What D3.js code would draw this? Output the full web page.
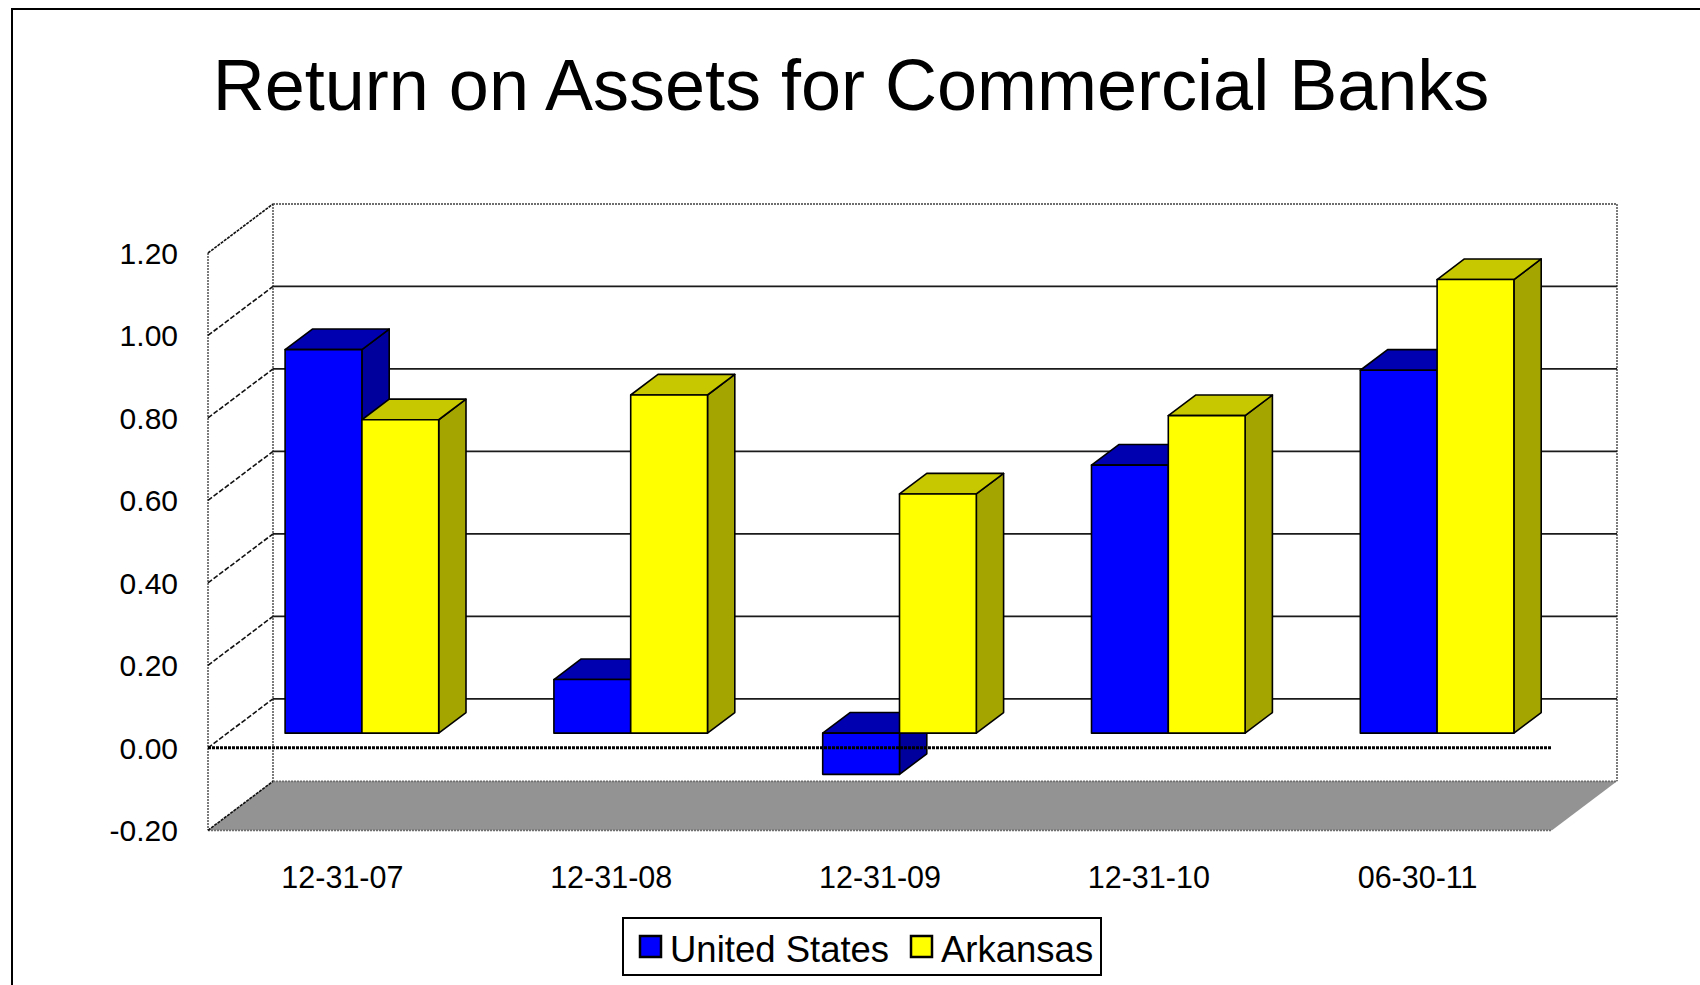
<!DOCTYPE html>
<html>
    <head>
        <meta charset="utf-8">
        <title>Return on Assets for Commercial Banks</title>
        <script src="https://d3js.org/d3.v7.min.js"></script>
        <style>
            body { margin: 0; background: #fff; }
            text { font-family: "Liberation Sans", Arial, sans-serif; fill: #000; }
        </style>
    </head>
    <body>
        <svg width="1700" height="985"></svg>

        <script type="text/javascript">
            // data
            const categories = ['12-31-07', '12-31-08', '12-31-09', '12-31-10', '06-30-11'];
            const seriesNames = ['United States', 'Arkansas'];
            const unitedStates = [0.93, 0.13, -0.10, 0.65, 0.88];
            const arkansas = [0.76, 0.82, 0.58, 0.77, 1.10];
            const yTicks = [-0.2, 0, 0.2, 0.4, 0.6, 0.8, 1.0, 1.2];
            const yTickLabels = ['-0.20', '0.00', '0.20', '0.40', '0.60', '0.80', '1.00', '1.20'];

            const frontColor = ['#0000ff', '#ffff00'];
            const topColor = ['#0000b0', '#c8c800'];
            const sideColor = ['#00009c', '#a5a500'];

            const svg = d3.select('svg');

            // front plane of the 3d box, and the depth offset of its back wall
            const left = 208, right = 1552;
            const DX = 65, DY = -49;
            const zFront = 0.3, zBack = 0.72;

            const x0 = d3.scaleBand()
                        .domain(categories)
                        .range([left, right]);
            const barW = x0.bandwidth() / 3.5;
            const x1 = d3.scaleBand()
                        .domain(seriesNames)
                        .range([0, 2 * barW]);
            const y = d3.scaleLinear()
                        .domain([-0.2, 1.2])
                        .range([830.3, 253]);

            // oblique projection: front x, value, depth 0..1
            const P = (x, v, z) => [x + z * DX, y(v) + z * DY];
            const poly = pts => pts.map(p => p.join(',')).join(' ');

            // walls and floor
            svg.append('polygon')
                .attr('points', poly([P(left, 1.2, 0), P(left, 1.2, 1), P(left, -0.2, 1), P(left, -0.2, 0)]))
                .attr('fill', '#fff');
            svg.append('polygon')
                .attr('points', poly([P(left, 1.2, 1), P(right, 1.2, 1), P(right, -0.2, 1), P(left, -0.2, 1)]))
                .attr('fill', '#fff');
            svg.append('polygon')
                .attr('points', poly([P(left, -0.2, 0), P(right, -0.2, 0), P(right, -0.2, 1), P(left, -0.2, 1)]))
                .attr('fill', '#939393');

            // wall edges, dotted gray
            const edges = [
                [P(left, 1.2, 0), P(left, -0.2, 0)],
                [P(left, 1.2, 1), P(left, -0.2, 1)],
                [P(left, 1.2, 1), P(right, 1.2, 1)],
                [P(right, 1.2, 1), P(right, -0.2, 1)],
                [P(left, -0.2, 1), P(right, -0.2, 1)],
                [P(left, -0.2, 0), P(right, -0.2, 0)]
            ];
            svg.selectAll('line.edge')
                .data(edges)
                .enter()
                .append('line')
                .attr('class', 'edge')
                .attr('x1', d => d[0][0]).attr('y1', d => d[0][1])
                .attr('x2', d => d[1][0]).attr('y2', d => d[1][1])
                .attr('stroke', '#6e6e6e')
                .attr('stroke-width', 1.8)
                .attr('stroke-dasharray', '2,1');

            // left wall diagonals (incl. the floor edge) and back wall gridlines
            svg.selectAll('line.diag')
                .data(yTicks)
                .enter()
                .append('line')
                .attr('class', 'diag')
                .attr('x1', d => P(left, d, 0)[0]).attr('y1', d => P(left, d, 0)[1])
                .attr('x2', d => P(left, d, 1)[0]).attr('y2', d => P(left, d, 1)[1])
                .attr('stroke', '#111')
                .attr('stroke-width', 1.6)
                .attr('stroke-dasharray', d => d === 1.2 || d === -0.2 ? '3,1' : '5,2');

            svg.selectAll('line.grid')
                .data(yTicks.filter(d => d >= 0 && d < 1.2))
                .enter()
                .append('line')
                .attr('class', 'grid')
                .attr('x1', P(left, 0, 1)[0])
                .attr('x2', P(right, 0, 1)[0])
                .attr('y1', d => P(left, d, 1)[1])
                .attr('y2', d => P(left, d, 1)[1])
                .attr('stroke', '#1a1a1a')
                .attr('stroke-width', 1.8);

            // bars, painted left to right
            const bars = [];
            categories.forEach((c, i) => {
                [unitedStates[i], arkansas[i]].forEach((v, s) => {
                    const xa = x0(c) + (x0.bandwidth() - 2 * barW) / 2 + x1(seriesNames[s]);
                    bars.push({ xa: xa, xb: xa + x1.bandwidth(), v: v, s: s });
                });
            });

            const barG = svg.selectAll('g.bar')
                            .data(bars)
                            .enter()
                            .append('g')
                            .attr('class', 'bar')
                            .attr('stroke', '#000')
                            .attr('stroke-width', 1.6)
                            .attr('stroke-linejoin', 'round');

            barG.append('polygon')
                .attr('points', d => {
                    const hi = Math.max(0, d.v), lo = Math.min(0, d.v);
                    return poly([P(d.xb, hi, zFront), P(d.xb, hi, zBack), P(d.xb, lo, zBack), P(d.xb, lo, zFront)]);
                })
                .attr('fill', d => sideColor[d.s]);
            barG.append('polygon')
                .attr('points', d => {
                    const hi = Math.max(0, d.v);
                    return poly([P(d.xa, hi, zFront), P(d.xb, hi, zFront), P(d.xb, hi, zBack), P(d.xa, hi, zBack)]);
                })
                .attr('fill', d => topColor[d.s]);
            barG.append('polygon')
                .attr('points', d => {
                    const hi = Math.max(0, d.v), lo = Math.min(0, d.v);
                    return poly([P(d.xa, hi, zFront), P(d.xb, hi, zFront), P(d.xb, lo, zFront), P(d.xa, lo, zFront)]);
                })
                .attr('fill', d => frontColor[d.s]);

            // zero line on the front plane, drawn over the bars
            svg.append('line')
                .attr('x1', P(left, 0, 0)[0]).attr('y1', P(left, 0, 0)[1])
                .attr('x2', P(right, 0, 0)[0]).attr('y2', P(right, 0, 0)[1])
                .attr('stroke', '#000')
                .attr('stroke-width', 3)
                .attr('stroke-dasharray', '3,1');

            // value labels
            svg.selectAll('text.ytick')
                .data(yTicks)
                .enter()
                .append('text')
                .attr('class', 'ytick')
                .attr('x', 178)
                .attr('y', d => y(d))
                .attr('dy', '0.36em')
                .attr('text-anchor', 'end')
                .style('font-size', '30px')
                .text((d, i) => yTickLabels[i]);

            // category labels
            svg.selectAll('text.xtick')
                .data(categories)
                .enter()
                .append('text')
                .attr('class', 'xtick')
                .attr('x', d => x0(d) + x0.bandwidth() / 2)
                .attr('y', 888)
                .attr('text-anchor', 'middle')
                .style('font-size', '30.5px')
                .text(d => d);

            // title
            svg.append('text')
                .attr('x', 851)
                .attr('y', 110)
                .attr('text-anchor', 'middle')
                .style('font-size', '72px')
                .text('Return on Assets for Commercial Banks');

            // legend
            const legend = svg.append('g');
            legend.append('rect')
                .attr('x', 623).attr('y', 918)
                .attr('width', 478).attr('height', 57)
                .attr('fill', '#fff')
                .attr('stroke', '#000')
                .attr('stroke-width', 2);
            const legendX = [640, 911];
            const item = legend.selectAll('g.item')
                            .data(seriesNames)
                            .enter()
                            .append('g')
                            .attr('class', 'item')
                            .attr('transform', (d, i) => `translate(${legendX[i]},936)`);
            item.append('rect')
                .attr('width', 21).attr('height', 21)
                .attr('fill', (d, i) => frontColor[i])
                .attr('stroke', '#000')
                .attr('stroke-width', 2.5);
            item.append('text')
                .attr('x', 30)
                .attr('y', 26)
                .style('font-size', '36.5px')
                .text(d => d);

            // outer chart border, running off the right and bottom
            svg.append('rect')
                .attr('x', 12).attr('y', 9)
                .attr('width', 1750).attr('height', 1050)
                .attr('fill', 'none')
                .attr('stroke', '#000')
                .attr('stroke-width', 2);
        </script>
    </body>
</html>
